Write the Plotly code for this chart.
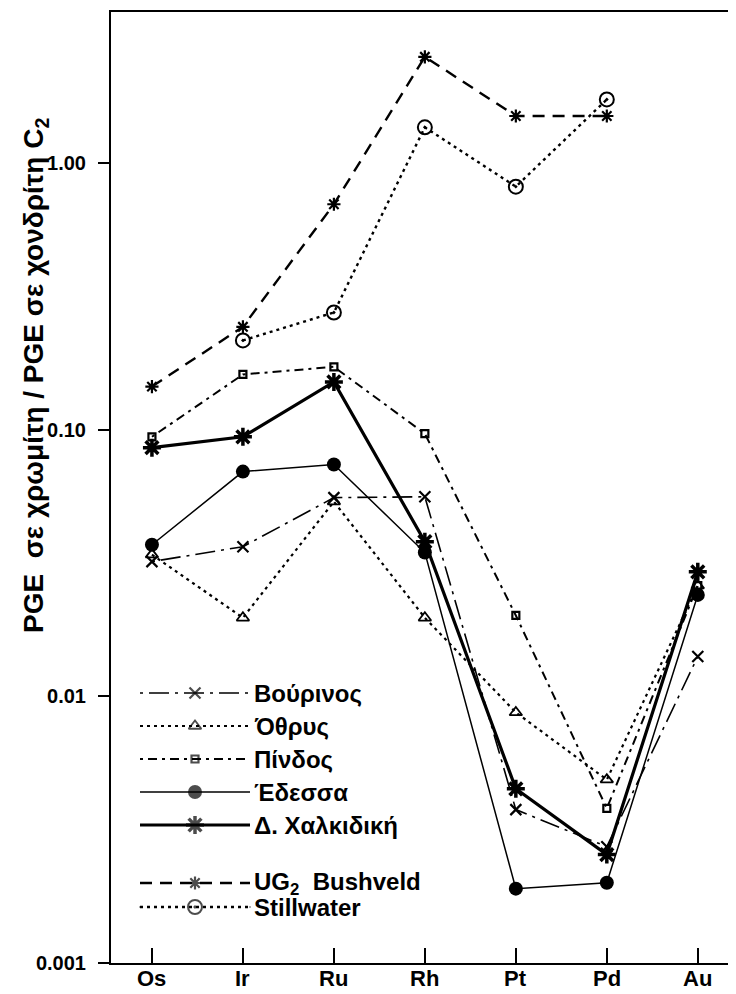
import plotly.graph_objects as go

# ---------------- data ----------------
elements = ["Os", "Ir", "Ru", "Rh", "Pt", "Pd", "Au"]

vourinos = [0.032, 0.0364, 0.0556, 0.056, 0.00376, 0.00273, 0.0141]
othrys = [0.034, 0.0197, 0.0537, 0.0197, 0.0087, 0.00487, 0.026]
pindos = [0.094, 0.161, 0.172, 0.0966, 0.0201, 0.0038, 0.026]
edessa = [0.037, 0.0696, 0.074, 0.0346, 0.0019, 0.0020, 0.024]
chalkidiki = [0.0856, 0.094, 0.151, 0.038, 0.0045, 0.00255, 0.0293]
ug2_bushveld = [0.145, 0.243, 0.70, 2.5, 1.5, 1.5, None]
stillwater = [None, 0.216, 0.275, 1.36, 0.815, 1.73, None]

series_names = ["Βούρινος", "Όθρυς", "Πίνδος", "Έδεσσα", "Δ. Χαλκιδική",
                "UG<sub>2</sub>  Bushveld", "Stillwater"]
series_values = [vourinos, othrys, pindos, edessa, chalkidiki, ug2_bushveld, stillwater]

y_tick_vals = [0.001, 0.01, 0.1, 1.0]
y_tick_text = ["0.001", "0.01", "0.10", "1.00"]
y_title = "PGE  σε χρωμίτη / PGE σε χονδρίτη C<sub>2</sub>"

# ---------------- styles ----------------
dashes = ["3px,6px,20px,6px", "3px,4px", "3px,5px,9px,5px", "solid", "solid", "12px,8px", "3px,4px"]
widths = [1.6, 2.2, 2.0, 1.5, 3.2, 2.4, 2.4]
symbols = ["x-thin-open", "triangle-up-open", "square-open", "circle", "asterisk-open",
           "asterisk-open", "circle-open-dot"]
msizes = [11, 11, 7, 14, 15, 11, 14]
mline = [2.2, 1.8, 2.2, 0, 3.5, 2.2, 2.0]

FONT = "Liberation Sans, Arial, sans-serif"
OFF = 8                      # page body margin of the html page
W, H = 736 - OFF, 994 - OFF
ML, MR, MT, MB = 111 - OFF, 0, 12 - OFF, 31
PW, PH = W - ML - MR, H - MT - MB

fig = go.Figure()
for name, vals, d, w, s, ms, ml in zip(series_names, series_values, dashes, widths,
                                       symbols, msizes, mline):
    fig.add_trace(go.Scatter(
        x=list(range(len(elements))), y=vals, name=name, mode="lines+markers",
        line=dict(color="black", width=w, dash=d),
        marker=dict(symbol=s, size=ms, color="black", line=dict(color="black", width=ml)),
        connectgaps=False, showlegend=False, cliponaxis=False,
    ))

# ---------------- hand-drawn legend (layout decoration) ----------------
legend_rows_px = [693, 726, 759, 792, 825, 883, 907]  # reference pixel y of each row
leg_x0, leg_x1, leg_text_x = 140, 250, 252
for name, d, w, s, ms, ml, ypx in zip(series_names, dashes, widths, symbols, msizes,
                                      mline, legend_rows_px):
    yv = (H - MB) - (ypx - OFF)
    fig.add_trace(go.Scatter(
        x=[0, 0.5, 1], y=[yv, yv, yv], mode="lines+markers", xaxis="x2", yaxis="y2",
        line=dict(color="black", width=w, dash=d),
        marker=dict(symbol=s, size=[0, ms, 0], color="black",
                    line=dict(color="black", width=[0, ml, 0])),
        showlegend=False, hoverinfo="skip", cliponaxis=False,
    ))
    fig.add_annotation(
        x=(leg_text_x - OFF - ML) / PW, y=yv / PH, xref="paper", yref="paper",
        text="<b>" + name + "</b>", showarrow=False, xanchor="left", yanchor="middle",
        font=dict(family=FONT, size=24, color="black"),
    )

# y-axis title
fig.add_annotation(
    x=(36 - OFF - ML) / PW, y=((H - MB) - (376 - OFF)) / PH, xref="paper", yref="paper",
    text="<b>" + y_title + "</b>", textangle=-90, showarrow=False,
    xanchor="center", yanchor="middle",
    font=dict(family=FONT, size=28, color="black"),
)

# x tick labels placed just under the axis
for i, el in enumerate(elements):
    fig.add_annotation(
        x=i, y=0, xref="x", yref="paper", text="<b>" + el + "</b>", showarrow=False,
        xanchor="center", yanchor="top", yshift=-1,
        font=dict(family=FONT, size=22, color="black"),
    )

fig.update_layout(
    width=W, height=H,
    margin=dict(l=ML, r=MR, t=MT, b=MB, pad=0),
    paper_bgcolor="white", plot_bgcolor="rgba(0,0,0,0)",
    showlegend=False,
    xaxis=dict(
        range=[-0.45, 6.42], tickmode="array", tickvals=list(range(len(elements))),
        showticklabels=False, ticks="inside", ticklen=15, tickwidth=1.5, tickcolor="black",
        showline=True, linecolor="black", linewidth=2, mirror=True,
        showgrid=False, zeroline=False,
    ),
    yaxis=dict(
        type="log", range=[-3, 0.566], tickmode="array", tickvals=y_tick_vals,
        ticktext=y_tick_text, ticks="outside", ticklen=11, tickwidth=2, tickcolor="black",
        ticklabelstandoff=8,
        showline=True, linecolor="black", linewidth=2, mirror=False,
        showgrid=False, zeroline=False,
        tickfont=dict(family=FONT, size=20, color="black", weight="bold"),
    ),
    xaxis2=dict(domain=[(leg_x0 - OFF - ML) / PW, (leg_x1 - OFF - ML) / PW], range=[0, 1],
                anchor="y2", visible=False, fixedrange=True),
    yaxis2=dict(domain=[0, 1], range=[0, PH], anchor="x2", visible=False, fixedrange=True),
)

fig.write_html("out.html")
